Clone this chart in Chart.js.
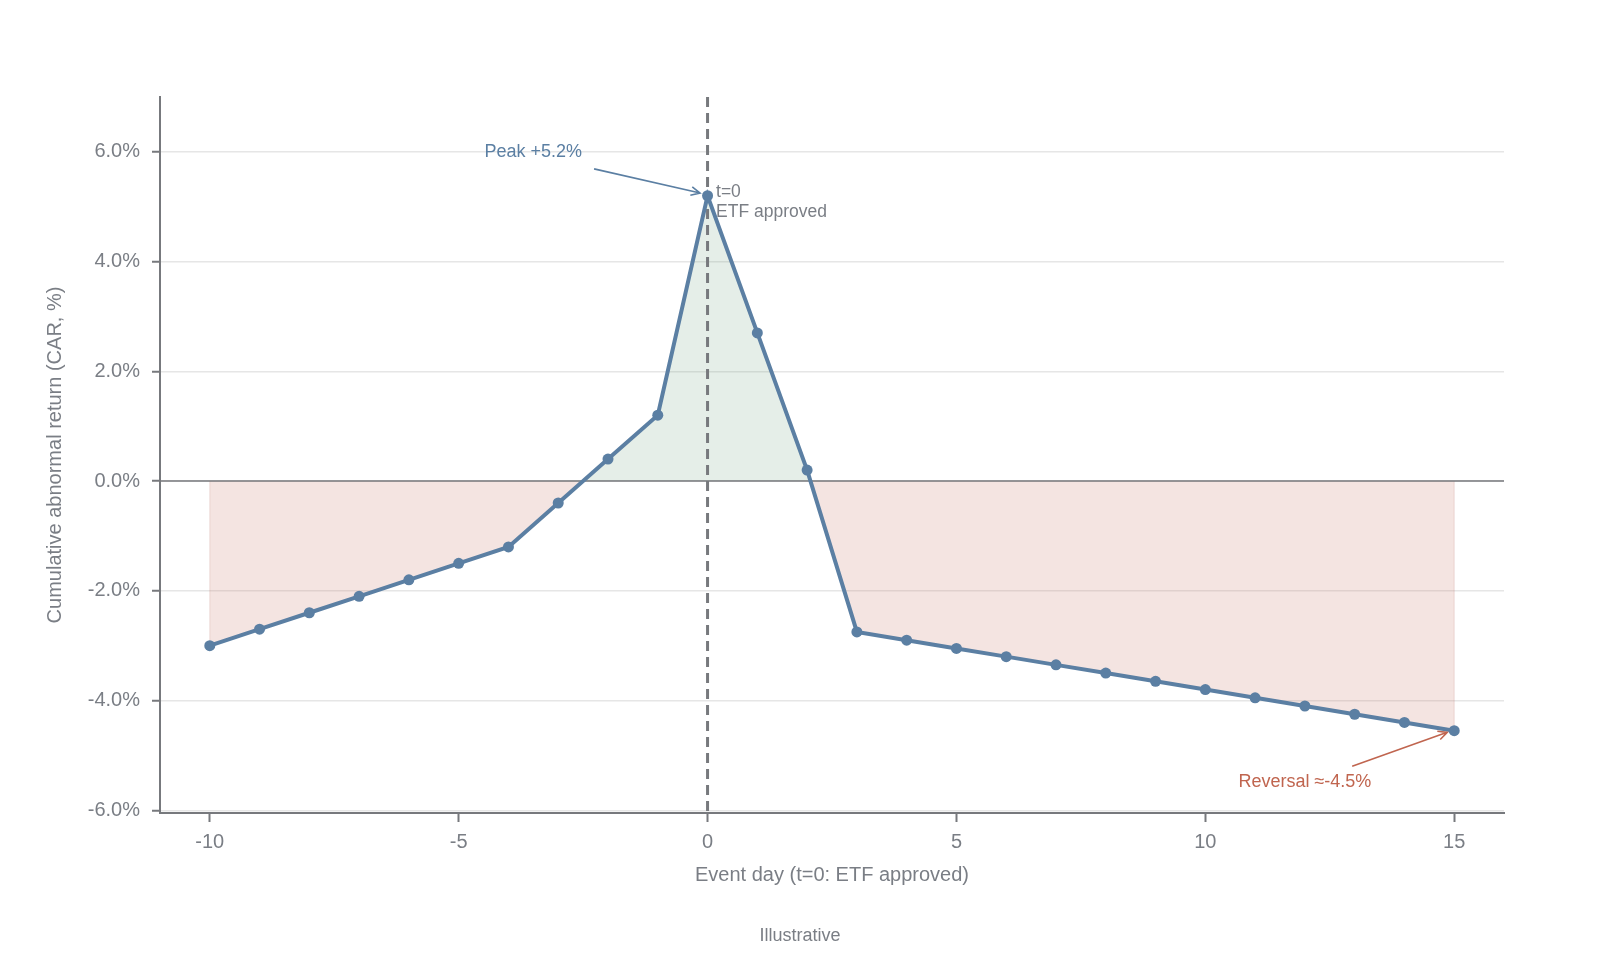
<!DOCTYPE html>
<html>
<head>
<meta charset="utf-8">
<script src="https://cdn.jsdelivr.net/npm/chart.js@4.4.1/dist/chart.umd.min.js"></script>
<style>
  html, body { margin: 0; padding: 0; background: #fff; }
  #wrap { width: 1600px; height: 969px; position: relative; }
</style>
</head>
<body>
<div id="wrap"><canvas id="carChart"></canvas></div>
<script>
// event days and cumulative abnormal return (%)
const days = [-10, -9, -8, -7, -6, -5, -4, -3, -2, -1, 0, 1, 2, 3, 4, 5, 6, 7, 8, 9, 10, 11, 12, 13, 14, 15];
const car = [-3.0, -2.7, -2.4, -2.1, -1.8, -1.5, -1.2, -0.4, 0.4, 1.2, 5.2, 2.7, 0.2,
             -2.75, -2.9, -3.05, -3.2, -3.35, -3.5, -3.65, -3.8, -3.95, -4.1, -4.25, -4.4, -4.55];

const xTicks = [-10, -5, 0, 5, 10, 15];
const yTicks = [-6, -4, -2, 0, 2, 4, 6];

// annotations in data units
const peakNote = { text: "Peak +5.2%", at: [-3.5, 6.0], from: [-2.28, 5.69], to: [-0.15, 5.25] };
const reversalNote = { text: "Reversal \u2248-4.5%", at: [12.0, -5.49], from: [12.95, -5.2], to: [14.86, -4.58] };
const eventNote = { lines: ["t=0", "ETF approved"], at: [0.17, 5.27] };

const grey = "#7a7e85";
const axisGrey = "#77797d";
const blue = "#5b7fa3";
const rust = "#c0654f";

Chart.defaults.font.family = '"Liberation Sans", Arial, Helvetica, sans-serif';
Chart.defaults.color = grey;

function arrow(ctx, x1, y1, x2, y2, color) {
    ctx.save();
    ctx.strokeStyle = color;
    ctx.lineWidth = 1.6;
    ctx.beginPath();
    ctx.moveTo(x1, y1);
    ctx.lineTo(x2, y2);
    const a = Math.atan2(y2 - y1, x2 - x1);
    const h = 10;
    ctx.moveTo(x2 - h * Math.cos(a - 0.45), y2 - h * Math.sin(a - 0.45));
    ctx.lineTo(x2, y2);
    ctx.lineTo(x2 - h * Math.cos(a + 0.45), y2 - h * Math.sin(a + 0.45));
    ctx.stroke();
    ctx.restore();
}

// zero line + dashed event line, drawn after the fill and before the series
const guides = {
    id: "guides",
    beforeDatasetsDraw(chart) {
        const { ctx, chartArea, scales: { x, y } } = chart;
        ctx.save();
        // faint edges of the shaded band at the first and last day
        ctx.strokeStyle = "rgba(190, 120, 110, 0.25)";
        ctx.lineWidth = 1;
        [days[0], days[days.length - 1]].forEach((d, i) => {
            const v = i === 0 ? car[0] : car[car.length - 1];
            ctx.beginPath();
            ctx.moveTo(x.getPixelForValue(d), y.getPixelForValue(0));
            ctx.lineTo(x.getPixelForValue(d), y.getPixelForValue(v));
            ctx.stroke();
        });

        ctx.strokeStyle = axisGrey;
        ctx.lineWidth = 1.6;
        ctx.beginPath();
        ctx.moveTo(chartArea.left, y.getPixelForValue(0));
        ctx.lineTo(chartArea.right, y.getPixelForValue(0));
        ctx.stroke();

        ctx.setLineDash([10, 6]);
        ctx.lineWidth = 3;
        ctx.beginPath();
        ctx.moveTo(x.getPixelForValue(0), chartArea.top);
        ctx.lineTo(x.getPixelForValue(0), chartArea.bottom);
        ctx.stroke();
        ctx.restore();
    },
    afterDatasetsDraw(chart) {
        const { ctx, scales: { x, y } } = chart;
        const px = (p) => [x.getPixelForValue(p[0]), y.getPixelForValue(p[1])];
        ctx.save();
        ctx.font = '18px "Liberation Sans", Arial, sans-serif';
        ctx.textBaseline = "middle";

        ctx.textAlign = "center";
        ctx.fillStyle = blue;
        let p = px(peakNote.at);
        ctx.fillText(peakNote.text, p[0], p[1]);
        arrow(ctx, ...px(peakNote.from), ...px(peakNote.to), blue);

        ctx.fillStyle = rust;
        p = px(reversalNote.at);
        ctx.fillText(reversalNote.text, p[0], p[1]);
        arrow(ctx, ...px(reversalNote.from), ...px(reversalNote.to), rust);

        ctx.textAlign = "left";
        ctx.fillStyle = grey;
        ctx.font = '17.5px "Liberation Sans", Arial, sans-serif';
        p = px(eventNote.at);
        eventNote.lines.forEach((t, i) => ctx.fillText(t, p[0], p[1] + i * 20));

        ctx.textAlign = "center";
        ctx.font = '18px "Liberation Sans", Arial, sans-serif';
        ctx.fillText("Illustrative", 800, 936);
        ctx.restore();
    },
};

new Chart(document.getElementById("carChart"), {
    type: "line",
    data: {
        labels: days,
        datasets: [{
            data: days.map((d, i) => ({ x: d, y: car[i] })),
            borderColor: blue,
            backgroundColor: blue,
            borderWidth: 4,
            pointRadius: 5.5,
            pointHoverRadius: 5.5,
            pointBorderWidth: 0,
            pointBackgroundColor: blue,
            tension: 0,
            fill: {
                target: "origin",
                above: "rgba(110, 160, 130, 0.18)",
                below: "rgba(200, 120, 105, 0.20)",
            },
        }],
    },
    options: {
        responsive: true,
        maintainAspectRatio: false,
        animation: false,
        layout: { padding: { top: 97, right: 96, bottom: 76, left: 0 } },
        plugins: {
            legend: { display: false },
            tooltip: { enabled: false },
            filler: { drawTime: "beforeDatasetsDraw" },
        },
        scales: {
            x: {
                type: "linear",
                min: -11,
                max: 16,
                afterBuildTicks: (s) => { s.ticks = xTicks.map((v) => ({ value: v })); },
                afterFit: (s) => { s.height = 80; },
                grid: { drawOnChartArea: false, drawTicks: true, tickLength: 9, tickColor: axisGrey, tickWidth: 2 },
                border: { color: axisGrey, width: 2 },
                ticks: { font: { size: 20 }, padding: 8, color: grey },
                title: { display: true, text: "Event day (t=0: ETF approved)", font: { size: 20 }, padding: { top: 0, bottom: 6 }, color: grey },
            },
            y: {
                min: -6.05,
                max: 7.0,
                afterBuildTicks: (s) => { s.ticks = yTicks.map((v) => ({ value: v })); },
                afterFit: (s) => { s.width = 160; },
                grid: { color: "#e6e6e6", lineWidth: 1.5, tickLength: 8, tickColor: axisGrey, tickWidth: 2 },
                border: { color: axisGrey, width: 2 },
                ticks: { font: { size: 20 }, padding: 12, color: grey, callback: (v) => v.toFixed(1) + "%" },
                title: { display: true, text: "Cumulative abnormal return (CAR, %)", font: { size: 20 }, padding: { top: 43, bottom: 0 }, color: grey },
            },
        },
    },
    plugins: [guides],
});
</script>
</body>
</html>
